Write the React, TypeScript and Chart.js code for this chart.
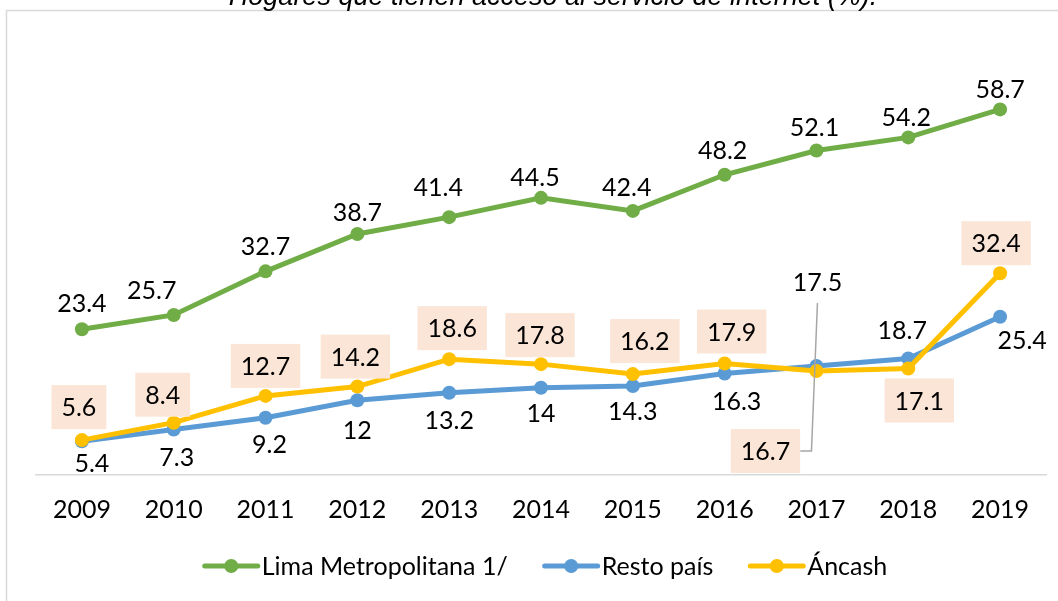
import React, { useEffect, useRef } from "react";
import { Chart, registerables } from "chart.js";

Chart.register(...registerables);

const TITLE = "Hogares que tienen acceso al servicio de internet (%).";
const years = ["2009", "2010", "2011", "2012", "2013", "2014", "2015", "2016", "2017", "2018", "2019"];
const seriesNames = ["Lima Metropolitana 1/", "Resto país", "Áncash"];
const lima = [23.4, 25.7, 32.7, 38.7, 41.4, 44.5, 42.4, 48.2, 52.1, 54.2, 58.7];
const resto = [5.4, 7.3, 9.2, 12, 13.2, 14, 14.3, 16.3, 17.5, 18.7, 25.4];
const ancash = [5.6, 8.4, 12.7, 14.2, 18.6, 17.8, 16.2, 17.9, 16.7, 17.1, 32.4];

const colors = ["#70AD47", "#5B9BD5", "#FFC000"];

// label centre offsets relative to each point (layout only)
const limaOffsets: [number, number][] = [
  [0, -26], [-22, -25], [0, -25], [0, -22], [-11, -30], [-6, -21], [-6, -24], [-2, -25], [-2, -24], [-2, -20], [0, -20],
];
const restoOffsets: [number, number][] = [
  [10, 22], [3, 27], [4, 26], [0, 30], [0, 27], [0, 25], [0, 25], [12, 27], [1, -84], [-6, -29], [22, 23],
];
const ancashOffsets: [number, number][] = [
  [-3, -33], [-11, -28], [0, -30], [-2, -30], [3, -31], [-1, -29], [12, -33], [7, -32], [-51, 80], [11, 32], [-4, -30],
];

const FONT = 'Lato, "Open Sans", sans-serif';
const FS = 25;

const customPlugin = {
  id: "customDecor",
  beforeDraw(chart: any) {
    const ctx = chart.ctx;
    ctx.save();
    ctx.fillStyle = "#ffffff";
    ctx.fillRect(0, 0, chart.width, chart.height);
    ctx.strokeStyle = "#d9d9d9";
    ctx.lineWidth = 1.5;
    ctx.strokeRect(6.5, 10.5, 1300, 900);
    ctx.font = 'italic 27px "Liberation Sans", Arial, sans-serif';
    ctx.fillStyle = "#000";
    ctx.textAlign = "center";
    ctx.textBaseline = "alphabetic";
    ctx.fillText(TITLE, 553, 5);
    ctx.restore();
  },
  afterDatasetsDraw(chart: any) {
    const ctx = chart.ctx;
    const offsets = [limaOffsets, restoOffsets, ancashOffsets];
    ctx.save();
    ctx.font = `${FS}px ${FONT}`;
    ctx.textAlign = "center";
    ctx.textBaseline = "middle";

    // leader line for Áncash 2017 label
    const metaA = chart.getDatasetMeta(2);
    const pA = metaA.data[8];
    if (pA) {
      const [dx, dy] = ancashOffsets[8];
      const txt = String(ancash[8]);
      const w = ctx.measureText(txt).width + 20;
      const bx = pA.x + dx + w / 2;
      const by = pA.y + dy;
      ctx.strokeStyle = "#a6a6a6";
      ctx.lineWidth = 1.5;
      ctx.beginPath();
      ctx.moveTo(bx, by);
      ctx.lineTo(pA.x - 5, by);
      ctx.lineTo(pA.x + 1, pA.y - 68);
      ctx.stroke();
    }

    chart.data.datasets.forEach((ds: any, di: number) => {
      const meta = chart.getDatasetMeta(di);
      meta.data.forEach((pt: any, i: number) => {
        const v = ds.data[i];
        const txt = String(v);
        const [dx, dy] = offsets[di][i];
        const cx = pt.x + dx;
        const cy = pt.y + dy;
        if (di === 2) {
          const w = ctx.measureText(txt).width + 20;
          const h = 44;
          ctx.fillStyle = "#FBE5D6";
          ctx.fillRect(cx - w / 2, cy - h / 2, w, h);
        }
        ctx.fillStyle = "#000";
        ctx.fillText(txt, cx, cy + 1);
      });
    });
    ctx.restore();
  },
  afterDraw(chart: any) {
    const ctx = chart.ctx;
    ctx.save();
    ctx.font = `${FS}px ${FONT}`;
    ctx.textBaseline = "middle";
    ctx.textAlign = "left";
    const markerW = 57;
    const gap = 2;
    const spacing = 35;
    const widths = seriesNames.map((n) => markerW + gap + ctx.measureText(n).width);
    const total = widths.reduce((a, b) => a + b, 0) + spacing * (widths.length - 1);
    let x = 545 - total / 2;
    const y = 566;
    seriesNames.forEach((n, i) => {
      ctx.strokeStyle = colors[i];
      ctx.lineWidth = 5;
      ctx.lineCap = "round";
      ctx.beginPath();
      ctx.moveTo(x + 2, y);
      ctx.lineTo(x + markerW - 2, y);
      ctx.stroke();
      ctx.fillStyle = colors[i];
      ctx.beginPath();
      ctx.arc(x + markerW / 2, y, 7, 0, Math.PI * 2);
      ctx.fill();
      ctx.fillStyle = "#000";
      ctx.fillText(n, x + markerW + gap, y + 1);
      x += widths[i] + spacing;
    });
    ctx.restore();
  },
};

export default function App() {
  const ref = useRef<HTMLCanvasElement | null>(null);
  useEffect(() => {
    if (!ref.current) return;
    const mk = (label: string, data: number[], color: string, order: number) => ({
      label,
      data,
      borderColor: color,
      backgroundColor: color,
      borderWidth: 5,
      pointRadius: 7,
      pointHoverRadius: 7,
      pointBorderWidth: 0,
      pointBackgroundColor: color,
      tension: 0,
      order,
    });
    const chart = new Chart(ref.current, {
      type: "line",
      data: {
        labels: years,
        datasets: [
          mk(seriesNames[0], lima, colors[0], 0),
          mk(seriesNames[1], resto, colors[1], 2),
          mk(seriesNames[2], ancash, colors[2], 1),
        ],
      },
      options: {
        responsive: false,
        animation: false,
        devicePixelRatio: 1,
        layout: { padding: { left: 36, right: 12, top: 39, bottom: 56 } },
        scales: {
          x: {
            offset: true,
            grid: { display: false, drawTicks: false },
            border: { display: true, color: "#d9d9d9", width: 1.5 },
            ticks: { color: "#000", font: { family: FONT, size: FS }, padding: 20 },
          },
          y: { display: false, min: 0, max: 70 },
        },
        plugins: {
          legend: { display: false },
          tooltip: { enabled: false },
          title: { display: false },
        },
      },
      plugins: [customPlugin],
    });
    return () => chart.destroy();
  }, []);
  return (
    <div style={{ position: "fixed", left: 0, top: 0, width: 1058, height: 601, background: "#fff" }}>
      <canvas ref={ref} width={1058} height={601} />
    </div>
  );
}
